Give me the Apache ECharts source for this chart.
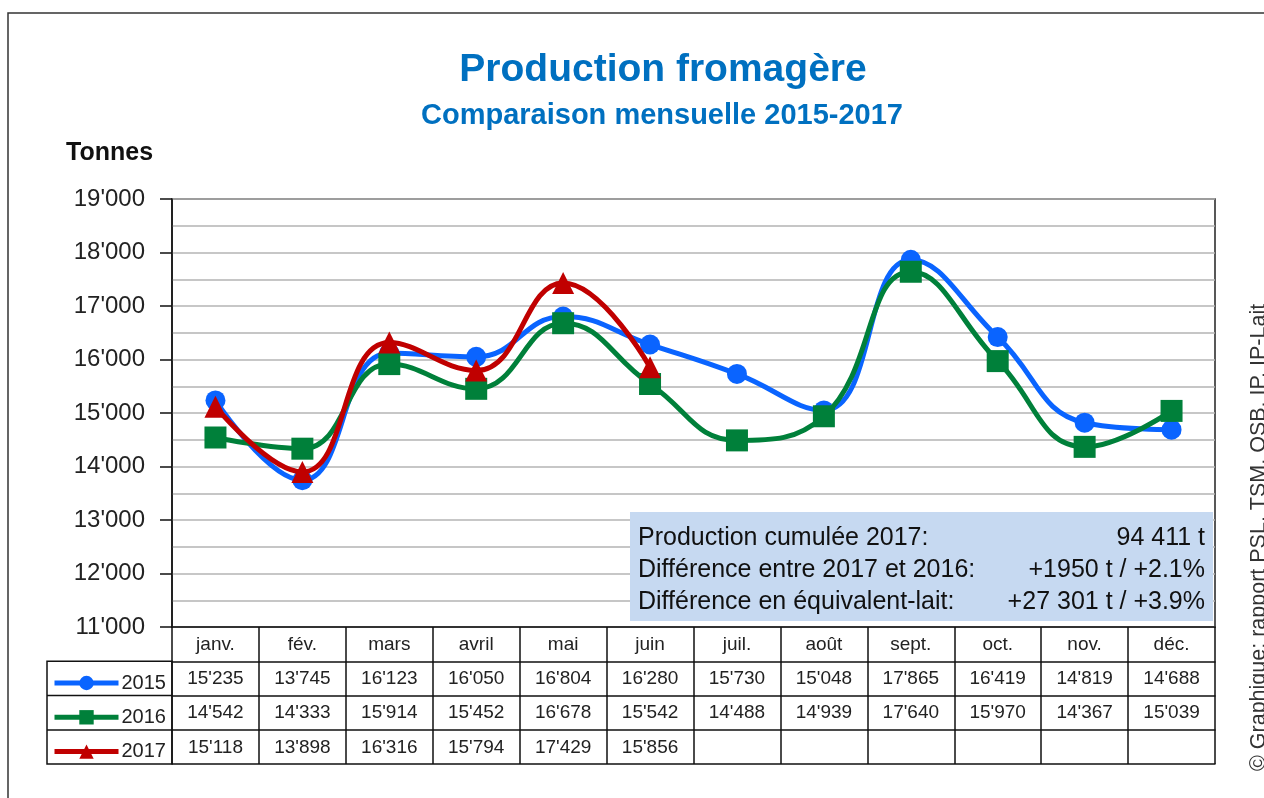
<!DOCTYPE html>
<html><head><meta charset="utf-8">
<script src="https://cdn.jsdelivr.net/npm/echarts@6/dist/echarts.min.js"></script>
<style>html,body{margin:0;padding:0;background:#fff}#c{width:1264px;height:798px}</style>
</head><body><div id="c"></div>
<script>
var months = ['janv.','fév.','mars','avril','mai','juin','juil.','août','sept.','oct.','nov.','déc.'];
var years = ['2015','2016','2017'];
var v2015 = [15235,13745,16123,16050,16804,16280,15730,15048,17865,16419,14819,14688];
var v2016 = [14542,14333,15914,15452,16678,15542,14488,14939,17640,15970,14367,15039];
var v2017 = [15118,13898,16316,15794,17429,15856];
var yTicks = {min:11000, max:19000, interval:1000};
var boxLines = [
  ['Production cumulée 2017:', '94 411 t'],
  ['Différence entre 2017 et 2016:', '+1950 t / +2.1%'],
  ['Différence en équivalent-lait:', '+27 301 t / +3.9%']
];
var credit = '© Graphique: rapport PSL, TSM, OSB, IP, IP-Lait';

var FONT = '"Liberation Sans", Arial, sans-serif';
function fmt(v){ var s = String(Math.round(v)); return s.length>3 ? s.slice(0,-3)+"'"+s.slice(-3) : s; }
function rowLabels(arr){ return months.map(function(m,i){ return arr[i]!=null ? fmt(arr[i]) : ''; }); }

var colors = ['#0A64FF','#00803A','#C00000'];
var ROW = 34.3;

var chart = echarts.init(document.getElementById('c'));
var xAxes = [{
  type:'category', data: months, position:'bottom', gridIndex:0, offset:0, boundaryGap:true,
  axisLine:{show:true, lineStyle:{color:'#111', width:1.5}},
  axisTick:{show:true, length:137, alignWithLabel:false, lineStyle:{color:'#111', width:1.5}},
  axisLabel:{show:true, margin:8, fontFamily:FONT, fontSize:19, color:'#222'},
  splitLine:{show:false}
}];
var rows = [v2015, v2016, v2017];
for (var r=0;r<3;r++){
  xAxes.push({
    type:'category', data: rowLabels(rows[r]), position:'bottom', gridIndex:0, offset: ROW*(r+1),
    axisLine:{show:true, lineStyle:{color:'#111', width:1.5}},
    axisTick:{show:false},
    axisLabel:{show:true, margin:8, fontFamily:FONT, fontSize:19, color:'#222', interval:0},
    splitLine:{show:false}
  });
}
xAxes.push({
  type:'category', data: months, position:'bottom', gridIndex:0, offset: 137,
  axisLine:{show:true, lineStyle:{color:'#111', width:1.5}},
  axisTick:{show:false}, axisLabel:{show:false}, splitLine:{show:false}
});

function seriesOf(name, data, symbol, size, color, z){
  return {
    name:name, type:'line', data:data, xAxisIndex:0, yAxisIndex:0,
    smooth:0.45, symbol:symbol, symbolSize:size, showSymbol:true,
    lineStyle:{width:5, color:color}, itemStyle:{color:color}, z:z
  };
}

chart.setOption({
  backgroundColor:'#fff',
  animation:false,
  title:[
    {text:'Production fromagère', left:658, textAlign:'center', top:46, textStyle:{fontFamily:FONT, fontSize:39, fontWeight:'bold', color:'#0070C0'}},
    {text:'Comparaison mensuelle 2015-2017', left:657, textAlign:'center', top:96, textStyle:{fontFamily:FONT, fontSize:29, fontWeight:'bold', color:'#0070C0'}},
    {text:'Tonnes', left:61, top:136, textStyle:{fontFamily:FONT, fontSize:25, fontWeight:'bold', color:'#111'}}
  ],
  legend:{
    orient:'vertical', left:47, top:667, itemWidth:64, itemHeight:18, itemGap:12.3,
    lineStyle:{width:5},
    textStyle:{fontFamily:FONT, fontSize:20, color:'#222', lineHeight:22, padding:[0,0,0,-2]},
    data: years
  },
  grid:{left:172, right:49, top:199, bottom:171, show:true, borderColor:'#222', borderWidth:1.5, backgroundColor:'transparent'},
  xAxis: xAxes,
  yAxis:{
    type:'value', min:yTicks.min, max:yTicks.max, interval:yTicks.interval,
    axisLine:{show:true, lineStyle:{color:'#111', width:1.5}},
    axisTick:{show:true, inside:false, length:12, lineStyle:{color:'#111', width:1.5}},
    axisLabel:{margin:27, fontFamily:FONT, fontSize:24, color:'#222', formatter:function(v){return fmt(v);}},
    splitLine:{show:true, lineStyle:{color:'#b4b4b4', width:1.5}},
    minorTick:{show:false, splitNumber:2},
    minorSplitLine:{show:true, lineStyle:{color:'#b4b4b4', width:1.5}}
  },
  series:[
    seriesOf(years[0], v2015, 'circle', 20, colors[0], 2),
    seriesOf(years[1], v2016, 'rect', 22, colors[1], 3),
    seriesOf(years[2], v2017, 'triangle', 22, colors[2], 4)
  ]
});

// decorations: table legend column, annotation box, credit, outer frame
var g = [];
g.push({type:'rect', shape:{x:8, y:13, width:1400, height:900}, style:{fill:'none', stroke:'#333', lineWidth:1.5}, z:0, silent:true});
var rowTop = 627 + ROW;
g.push({type:'rect', shape:{x:47, y:rowTop, width:125, height:137-ROW}, style:{fill:'none', stroke:'#111', lineWidth:1.5}, z:10});
g.push({type:'line', shape:{x1:47, y1:rowTop+ROW, x2:172, y2:rowTop+ROW}, style:{stroke:'#111', lineWidth:1.5}, z:10});
g.push({type:'line', shape:{x1:47, y1:rowTop+2*ROW, x2:172, y2:rowTop+2*ROW}, style:{stroke:'#111', lineWidth:1.5}, z:10});
// annotation box
var bx = 630, by = 512, bw = 583, bh = 109;
g.push({type:'rect', shape:{x:bx, y:by, width:bw, height:bh}, style:{fill:'#C6D9F1', stroke:'none'}, z:20});
for (var i=0;i<boxLines.length;i++){
  var ty = by + 26 + i*32;
  g.push({type:'text', x:bx+8, y:ty, style:{text:boxLines[i][0], font:'25px '+FONT, fill:'#111', textAlign:'left', textVerticalAlign:'middle'}, z:21});
  g.push({type:'text', x:bx+bw-8, y:ty, style:{text:boxLines[i][1], font:'25px '+FONT, fill:'#111', textAlign:'right', textVerticalAlign:'middle'}, z:21});
}
g.push({type:'text', x:1248, y:771, rotation:Math.PI/2, style:{text:credit, font:'21.5px '+FONT, fill:'#333', textAlign:'left', textVerticalAlign:'top'}, z:21});
chart.setOption({graphic:g});
</script></body></html>
